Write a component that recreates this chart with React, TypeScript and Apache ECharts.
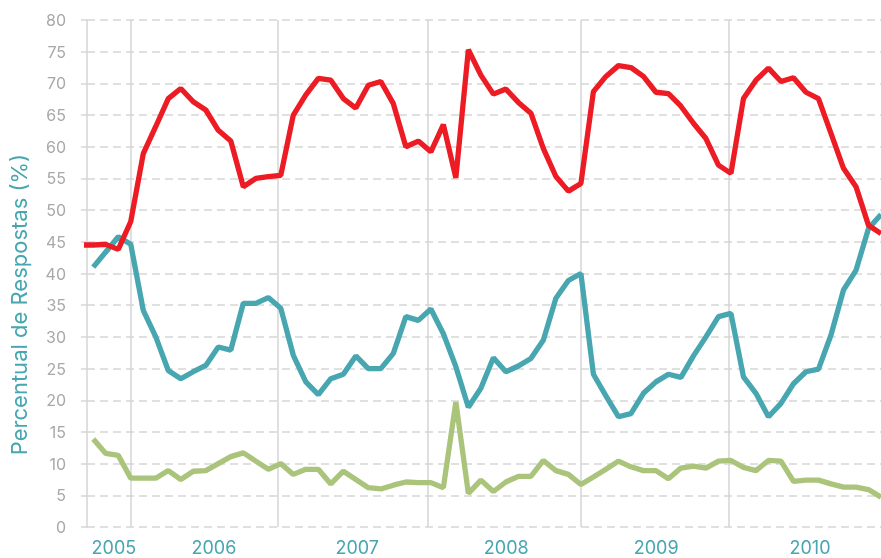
import React, { useEffect, useRef } from "react";
import * as echarts from "echarts";

// Months (YYYY-MM), one point per month
const months: string[] = [
  "2005-09", "2005-10", "2005-11", "2005-12",
  "2006-01", "2006-02", "2006-03", "2006-04", "2006-05", "2006-06", "2006-07", "2006-08", "2006-09", "2006-10", "2006-11", "2006-12",
  "2007-01", "2007-02", "2007-03", "2007-04", "2007-05", "2007-06", "2007-07", "2007-08", "2007-09", "2007-10", "2007-11", "2007-12",
  "2008-01", "2008-02", "2008-03", "2008-04", "2008-05", "2008-06", "2008-07", "2008-08", "2008-09", "2008-10", "2008-11", "2008-12",
  "2009-01", "2009-02", "2009-03", "2009-04", "2009-05", "2009-06", "2009-07", "2009-08", "2009-09", "2009-10", "2009-11", "2009-12",
  "2010-01", "2010-02", "2010-03", "2010-04", "2010-05", "2010-06", "2010-07", "2010-08", "2010-09", "2010-10", "2010-11", "2010-12",
  "2011-01",
];

const redValues: (number | null)[] = [
  44.5, 44.5, 44.6, 43.8,
  48.2, 58.9, 63.2, 67.6, 69.2, 67.1, 65.8, 62.6, 60.9, 53.7, 55.0, 55.3,
  55.5, 65.0, 68.2, 70.8, 70.5, 67.6, 66.1, 69.7, 70.3, 66.8, 60.0, 60.9,
  59.2, 63.5, 55.1, 75.3, 71.3, 68.3, 69.1, 67.0, 65.3, 59.7, 55.3, 53.0,
  54.2, 68.7, 71.1, 72.8, 72.5, 71.1, 68.6, 68.4, 66.4, 63.7, 61.3, 57.1,
  55.8, 67.6, 70.5, 72.4, 70.3, 70.9, 68.6, 67.6, 62.1, 56.6, 53.7, 47.6,
  46.3,
];

const tealValues: (number | null)[] = [
  null, 41.0, 43.4, 45.8,
  44.6, 34.2, 30.0, 24.7, 23.4, 24.5, 25.5, 28.4, 27.9, 35.3, 35.3, 36.2,
  34.5, 27.1, 22.9, 20.9, 23.4, 24.1, 27.0, 25.0, 25.0, 27.4, 33.2, 32.6,
  34.4, 30.5, 25.3, 18.9, 21.9, 26.7, 24.5, 25.4, 26.6, 29.5, 36.1, 38.9,
  40.0, 24.1, 20.7, 17.4, 17.9, 21.1, 22.9, 24.1, 23.6, 27.0, 30.0, 33.2,
  33.7, 23.7, 21.1, 17.4, 19.5, 22.6, 24.5, 24.9, 30.3, 37.4, 40.5, 47.1,
  49.3,
];

const greenValues: (number | null)[] = [
  null, 13.9, 11.6, 11.3,
  7.7, 7.7, 7.7, 8.9, 7.5, 8.8, 8.9, 10.0, 11.1, 11.7, 10.4, 9.1,
  10.0, 8.3, 9.1, 9.1, 6.8, 8.8, 7.5, 6.2, 6.0, 6.6, 7.1, 7.0,
  7.0, 6.2, 19.7, 5.3, 7.4, 5.6, 7.1, 8.0, 8.0, 10.5, 8.9, 8.3,
  6.7, 7.9, 9.1, 10.4, 9.5, 8.9, 8.9, 7.6, 9.3, 9.6, 9.3, 10.4,
  10.5, 9.4, 8.9, 10.5, 10.4, 7.2, 7.4, 7.4, 6.8, 6.3, 6.3, 5.9,
  4.7,
];

// Year labels on the x axis
const yearLabels: string[] = ["2005", "2006", "2007", "2008", "2009", "2010"];

// months since Jan 2005
const toM = (s: string) => {
  const [y, m] = s.split("-").map(Number);
  return (y - 2005) * 12 + (m - 1);
};

// layout: where labels and year divider lines sit (in months since Jan 2005)
const labelPos = [10.65, 18.65, 30.11, 42.03, 54.02, 66.32];
const yearLinePos = [12, 23.73, 35.72, 47.99, 59.79];

const FONT = "Inter, 'Noto Sans', sans-serif";
const TEAL = "#47a6b0";

export default function App() {
  const ref = useRef<HTMLDivElement>(null);

  useEffect(() => {
    document.body.style.margin = "0";
    const chart = echarts.init(ref.current!, undefined, { renderer: "svg" });
    const mk = (vals: (number | null)[]) =>
      months.map((mo, i) => [toM(mo), vals[i]]);

    chart.setOption({
      animation: false,
      grid: { left: 87, right: 0, top: 20, bottom: 31, containLabel: false },
      xAxis: {
        type: "value",
        min: 8.5,
        max: 72,
        axisLine: { show: false },
        axisTick: { show: false },
        splitLine: { show: false },
        axisLabel: {
          customValues: labelPos,
          formatter: (v: number) => {
            const i = labelPos.findIndex((p) => Math.abs(p - v) < 1e-6);
            return i >= 0 ? yearLabels[i] : "";
          },
          color: TEAL,
          fontSize: 18,
          fontFamily: FONT,
          margin: 11,
        },
      },
      yAxis: {
        type: "value",
        min: 0,
        max: 80,
        interval: 5,
        name: "Percentual de Respostas (%)",
        nameLocation: "middle",
        nameGap: 57,
        nameTextStyle: {
          color: TEAL,
          fontSize: 22,
          fontFamily: FONT,
          padding: [0, 62, 0, 0],
        },
        axisLine: { show: true, lineStyle: { color: "#d4d4d4", width: 1.5 } },
        axisTick: {
          show: true,
          length: 9,
          lineStyle: { color: "#d6d6d6", width: 1.5, type: [6, 3] },
        },
        axisLabel: { color: "#a8a8a8", fontSize: 16, fontFamily: FONT, margin: 21 },
        splitLine: {
          show: true,
          lineStyle: { color: "#d6d6d6", width: 1.5, type: [8, 5] },
        },
      },
      series: [
        {
          type: "line",
          data: mk(redValues),
          showSymbol: false,
          symbol: "none",
          lineStyle: { color: "#ed1c24", width: 5.3 },
          itemStyle: { color: "#ed1c24" },
          z: 4,
          markLine: {
            silent: true,
            symbol: ["none", "none"],
            z: 1,
            label: { show: false },
            lineStyle: { color: "#d4d4d4", width: 1.5, type: "solid" },
            emphasis: { disabled: true },
            data: yearLinePos.map((v) => ({ xAxis: v })),
          },
        },
        {
          type: "line",
          data: mk(tealValues),
          showSymbol: false,
          symbol: "none",
          lineStyle: { color: TEAL, width: 5.3 },
          itemStyle: { color: TEAL },
          z: 3,
        },
        {
          type: "line",
          data: mk(greenValues),
          showSymbol: false,
          symbol: "none",
          lineStyle: { color: "#abc47b", width: 5.3 },
          itemStyle: { color: "#abc47b" },
          z: 2,
        },
      ],
    });
    return () => chart.dispose();
  }, []);

  return (
    <div
      ref={ref}
      style={{ position: "fixed", left: 0, top: 0, width: 881, height: 558 }}
    />
  );
}
